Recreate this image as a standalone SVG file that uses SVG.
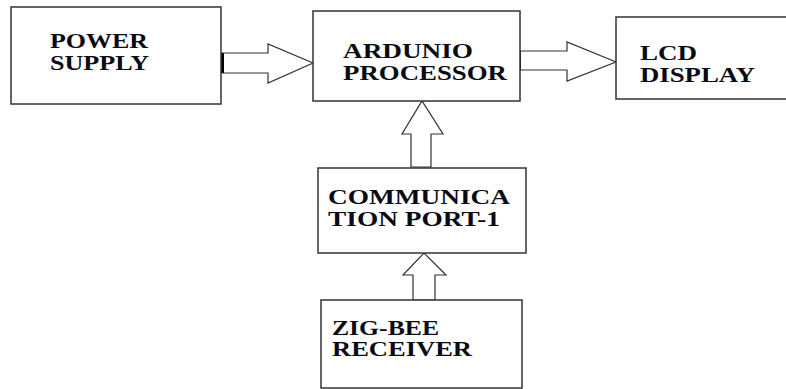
<svg xmlns="http://www.w3.org/2000/svg" width="786" height="389" viewBox="0 0 786 389">
<style>
.box{fill:#fff;stroke:#333;stroke-width:1.5}
.arr{fill:#fff;stroke:#333;stroke-width:1.2;stroke-linejoin:miter}
text{font-weight:bold;font-size:20px;fill:#0a0a14}
</style>
<rect width="786" height="389" fill="#fff"/>
<g id="connectors">
<polygon class="arr" points="222,53 268,53 268,44 313,63 268,83 268,73 222,73"/>
<line x1="222.5" y1="53" x2="222.5" y2="73" stroke="#000" stroke-width="3"/>
<polygon class="arr" points="519,51 567,51 567,42 616,62 567,81 567,70 519,70"/>
<line x1="519.5" y1="51" x2="519.5" y2="70" stroke="#000" stroke-width="3"/>
<polygon class="arr" points="411,167 411,134 402,134 422,101 443,134 431,134 431,167"/>
<polygon class="arr" points="413,300 413,275 403,275 424,253 446,275 435,275 435,300"/>
</g>
<g font-family="Liberation Serif, DejaVu Serif, serif">
<g id="power-supply">
<rect class="box" x="11" y="7" width="210" height="97"/>
<text x="50" y="48" textLength="98" lengthAdjust="spacingAndGlyphs">POWER</text>
<text x="50" y="70" textLength="99" lengthAdjust="spacingAndGlyphs">SUPPLY</text>
</g>
<g id="ardunio-processor">
<rect class="box" x="313" y="11" width="207" height="90"/>
<text x="343" y="58" textLength="130" lengthAdjust="spacingAndGlyphs">ARDUNIO</text>
<text x="343" y="80" textLength="164" lengthAdjust="spacingAndGlyphs">PROCESSOR</text>
</g>
<g id="lcd-display">
<rect class="box" x="616" y="17" width="180" height="82"/>
<text x="640" y="60" textLength="57" lengthAdjust="spacingAndGlyphs">LCD</text>
<text x="640" y="82" textLength="115" lengthAdjust="spacingAndGlyphs">DISPLAY</text>
</g>
<g id="communication-port">
<rect class="box" x="318" y="168" width="208" height="85"/>
<text x="328" y="204" textLength="182" lengthAdjust="spacingAndGlyphs">COMMUNICA</text>
<text x="328" y="226" textLength="172" lengthAdjust="spacingAndGlyphs">TION PORT-1</text>
</g>
<g id="zigbee-receiver">
<rect class="box" x="321" y="300" width="201" height="88"/>
<text x="332" y="335" textLength="107" lengthAdjust="spacingAndGlyphs">ZIG-BEE</text>
<text x="332" y="356" textLength="140" lengthAdjust="spacingAndGlyphs">RECEIVER</text>
</g>
</g>
</svg>
